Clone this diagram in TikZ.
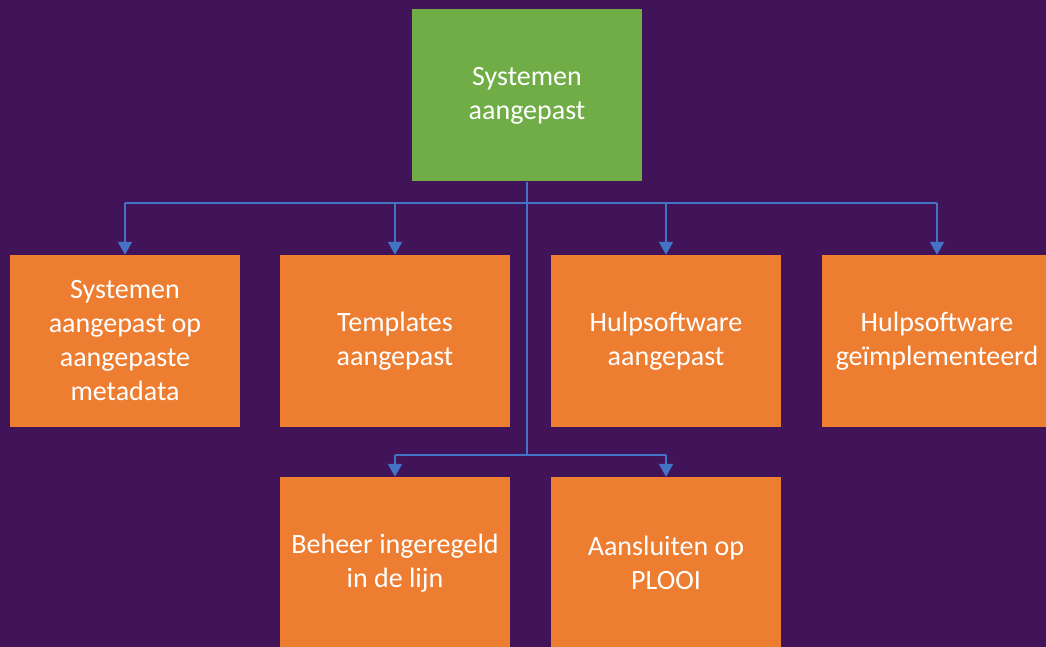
\documentclass[tikz,border=0pt]{standalone}
\usepackage{fontspec}
\setmainfont{Carlito}
\usetikzlibrary{arrows.meta}
\definecolor{bgc}{HTML}{41145A}
\definecolor{grn}{HTML}{70AD47}
\definecolor{org}{HTML}{ED7D31}
\definecolor{lnc}{HTML}{4472C4}
\begin{document}
\begin{tikzpicture}[x=1pt,y=-1pt,
  box/.style={minimum width=230pt,minimum height=172pt,inner sep=0pt,align=center,text=white,
    font=\fontsize{28}{34}\selectfont},
  topbox/.style={box,fill=grn},
  subbox/.style={box,fill=org},
  conn/.style={draw=lnc,line width=2pt},
  arr/.style={conn,-{Triangle[width=14pt,length=13pt]}}]
\fill[bgc] (0,0) rectangle (1046,647);
\useasboundingbox (0,0) rectangle (1046,647);
\begin{scope}
\clip (0,0) rectangle (1046,647);
\node[topbox] (top) at (527,95.5) {Systemen\\aangepast};
\node[subbox] (a) at (125,341) {Systemen\\aangepast op\\aangepaste\\metadata};
\node[subbox] (b) at (395,341) {Templates\\aangepast};
\node[subbox] (c) at (666,341) {Hulpsoftware\\aangepast};
\node[subbox] (d) at (937,341) {Hulpsoftware\\geïmplementeerd};
\node[subbox] (e) at (395,563) {Beheer ingeregeld\\in de lijn};
\node[subbox] (f) at (666,563) {Aansluiten op\\PLOOI};
\coordinate (j1) at (527,203);
\coordinate (j2) at (527,455);
\draw[conn] (top.south) -- (j2);
\draw[conn] (j1 -| a.north) -- (j1 -| d.north);
\draw[conn] (j2 -| e.north) -- (j2 -| f.north);
\foreach \n in {a,b,c,d} \draw[arr] (j1 -| \n.north) -- (\n.north);
\foreach \n in {e,f} \draw[arr] (j2 -| \n.north) -- (\n.north);
\end{scope}
\end{tikzpicture}
\end{document}
